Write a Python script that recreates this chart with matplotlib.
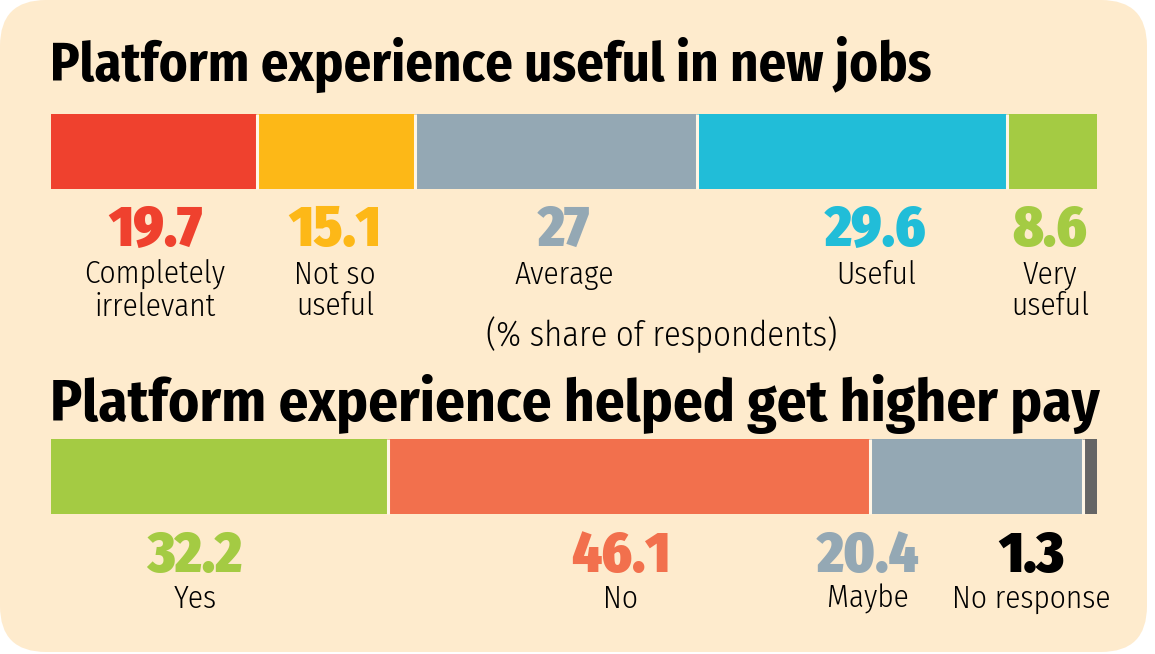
import matplotlib
matplotlib.use("Agg")
import matplotlib.pyplot as plt
import numpy as np
from matplotlib.patches import FancyBboxPatch
from matplotlib.transforms import IdentityTransform

# ---- data ----
title1 = "Platform experience useful in new jobs"
cats1 = ["Completely\nirrelevant", "Not so\nuseful", "Average", "Useful", "Very\nuseful"]
vals1 = [19.7, 15.1, 27, 29.6, 8.6]
val_labels1 = ["19.7", "15.1", "27", "29.6", "8.6"]
colors1 = ["#EF412E", "#FDB817", "#94A8B4", "#21BDD8", "#A4CB43"]

title2 = "Platform experience helped get higher pay"
cats2 = ["Yes", "No", "Maybe", "No response"]
vals2 = [32.2, 46.1, 20.4, 1.3]
val_labels2 = ["32.2", "46.1", "20.4", "1.3"]
colors2 = ["#A4CB43", "#F2704D", "#94A8B4", "#656565"]
numcolors2 = ["#A4CB43", "#F2704D", "#94A8B4", "#000000"]

note = "(% share of respondents)"

# ---- layout (label centres in % units) ----
lab_x1 = [9.94, 27.15, 49.04, 78.87, 95.51]
lab_x2 = [13.77, 54.49, 78.11, 93.7]

W, H = 1155, 654
BG = "#FEEBCD"
fig = plt.figure(figsize=(W / 100, H / 100), dpi=100)
fig.patch.set_facecolor("white")
bg = FancyBboxPatch((0, 2), 1147, 652, boxstyle="round,pad=0,rounding_size=46",
                    transform=IdentityTransform(), facecolor=BG, edgecolor="none", zorder=-10)
fig.patches.append(bg)

ax = fig.add_axes([0, 0, 1, 1])
ax.set_axis_off()
ax.patch.set_alpha(0)
px = 10.46  # pixels per percent unit
ax.set_xlim(-51 / px, (W - 51) / px)
ax.set_ylim(H, 0)

TITLE_FONT = "Fira Sans Condensed"
NUM_FONT = "Fira Sans Condensed"
LAB_FONT = "Fira Sans Condensed"


def draw_bar(yc, vals, colors):
    left = np.concatenate([[0], np.cumsum(vals)[:-1]])
    ax.barh(yc, vals, left=left, height=75, color=colors, edgecolor="none")
    ax.vlines(np.cumsum(vals)[:-1], yc - 37.5, yc + 37.5, color="#FFF6E6", lw=2.2)


# Title 1
ax.text(-0.05, 81, title1, fontsize=39.2, fontweight=700, family=TITLE_FONT, ha="left", va="baseline")
draw_bar(151.5, vals1, colors1)
for x, v, c, col in zip(lab_x1, val_labels1, cats1, colors1):
    ax.text(x, 246, v, fontsize=41, fontweight=900, family=NUM_FONT, color=col, ha="center", va="baseline")
    ax.text(x, 260, c, fontsize=22.5, fontweight=300, family=LAB_FONT, color="black",
            ha="center", va="top", linespacing=1.05)
ax.text((662 - 51) / px, 346, note, fontsize=24.8, fontweight=300, family=LAB_FONT, ha="center", va="baseline")

# Title 2
ax.text(-0.05, 421, title2, fontsize=42.5, fontweight=700, family=TITLE_FONT, ha="left", va="baseline")
draw_bar(476.5, vals2, colors2)
for x, v, c, col in zip(lab_x2, val_labels2, cats2, numcolors2):
    ax.text(x, 572, v, fontsize=41, fontweight=900, family=NUM_FONT, color=col, ha="center", va="baseline")
    ax.text(x, 584, c, fontsize=22.5, fontweight=300, family=LAB_FONT, color="black",
            ha="center", va="top", linespacing=1.05)

fig.savefig("out.png", dpi=100, facecolor="white")
